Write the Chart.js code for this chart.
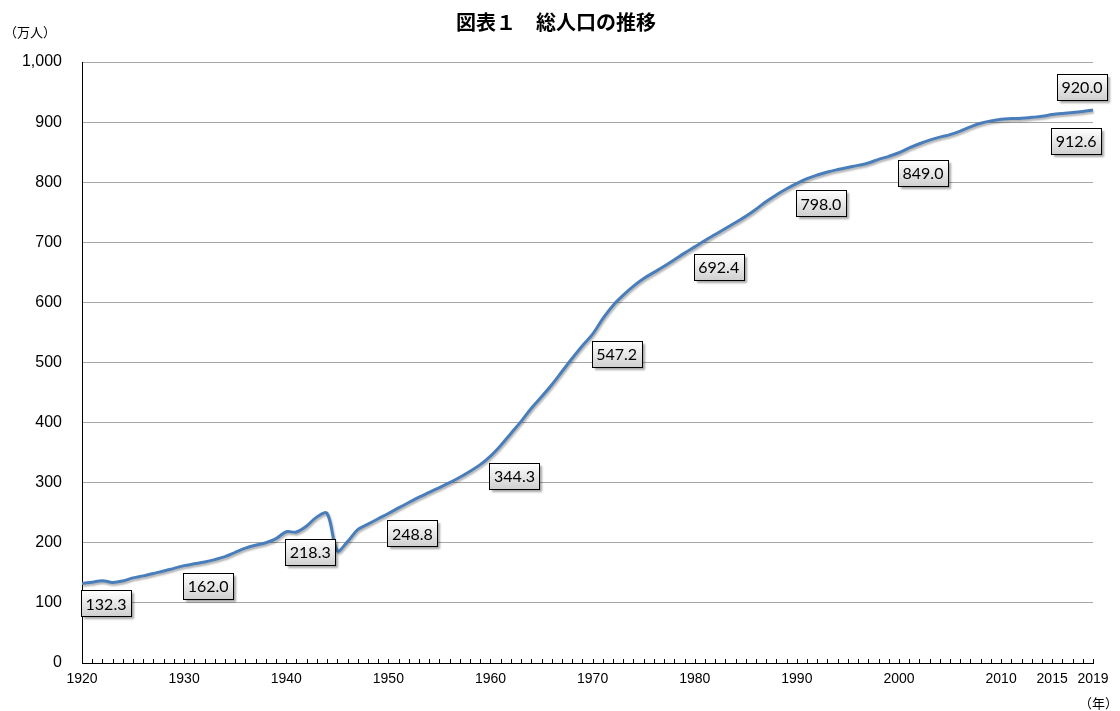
<!DOCTYPE html>
<html lang="ja">
<head>
<meta charset="utf-8">
<title>図表１ 総人口の推移</title>
<script src="https://cdn.jsdelivr.net/npm/chart.js@4.4.0/dist/chart.umd.min.js"></script>
<style>
    html, body { margin: 0; padding: 0; background: #ffffff; }
    #wrap { width: 1120px; height: 711px; position: relative; }
</style>
</head>
<body>
<div id="wrap"><canvas id="populationChart" width="1120" height="711"></canvas></div>
<script>
// Years 1920 - 2019
const years = [];
for (let y = 1920; y <= 2019; y++) years.push(y);

// Total population (10,000 persons)
const population = [
    132.3, 134.5, 137.0, 134.0, 136.5, 141.7, 145.0, 149.0, 153.0, 157.5,
    162.0, 165.0, 168.0, 172.0, 177.0, 184.0, 191.0, 196.0, 200.0, 207.0,
    218.3, 218.0, 228.0, 243.0, 249.0, 186.6, 202.0, 221.8, 231.0, 240.0,
    248.8, 258.0, 267.0, 276.0, 284.0, 291.9, 300.0, 309.0, 319.0, 330.0,
    344.3, 362.0, 382.0, 402.0, 424.0, 443.1, 463.0, 485.0, 507.0, 528.0,
    547.2, 573.0, 595.0, 612.0, 627.0, 639.7, 650.0, 660.0, 671.0, 682.0,
    692.4, 703.0, 713.0, 723.0, 733.0, 743.2, 755.0, 768.0, 779.0, 789.0,
    798.0, 806.0, 812.0, 817.0, 821.0, 824.6, 828.0, 832.0, 838.0, 843.0,
    849.0, 857.0, 864.0, 870.0, 875.0, 879.2, 885.0, 892.0, 898.0, 902.0,
    904.8, 905.8, 906.5, 907.9, 909.6, 912.6, 914.5, 915.9, 917.7, 920.0
];

// Tick labels shown on the axes
const xTickYears = [1920, 1930, 1940, 1950, 1960, 1970, 1980, 1990, 2000, 2010, 2015, 2019];
const yTicks = [0, 100, 200, 300, 400, 500, 600, 700, 800, 900, 1000];

// Years that get a value box
const labelYears = [1920, 1930, 1940, 1950, 1960, 1970, 1980, 1990, 2000, 2015, 2019];

const colors = {
    line: '#4a7ebb',
    grid: '#a6a6a6',
    axis: '#000000',
    text: '#000000'
};

// box offsets from the point (style only)
const boxOffset = { default: [24, 20], 2015: [24, 26], 2019: [-11, -23] };

// value boxes + year minor ticks + extra texts
const decorPlugin = {
    id: 'decor',
    beforeDatasetDraw(chart) {
        const ctx = chart.ctx;
        ctx.save();
        ctx.shadowColor = 'rgba(0,0,0,0.3)';
        ctx.shadowOffsetX = 1;
        ctx.shadowOffsetY = 2;
        ctx.shadowBlur = 2;
    },
    afterDatasetDraw(chart) {
        chart.ctx.restore();
    },
    afterDraw(chart) {
        const ctx = chart.ctx;
        const xs = chart.scales.x;
        const ys = chart.scales.y;
        const area = chart.chartArea;

        // minor ticks for every year (pointing inside)
        ctx.save();
        ctx.strokeStyle = '#000000';
        ctx.lineWidth = 1;
        ctx.beginPath();
        years.forEach(function(yr, i) {
            const px = Math.round(xs.getPixelForValue(i)) + 0.5;
            ctx.moveTo(px, area.bottom);
            ctx.lineTo(px, area.bottom - 4);
        });
        ctx.stroke();
        ctx.restore();

        // value boxes
        ctx.save();
        ctx.font = '16px Lato, "Open Sans", sans-serif';
        ctx.textAlign = 'center';
        ctx.textBaseline = 'middle';
        labelYears.forEach(function(yr) {
            const i = years.indexOf(yr);
            const v = population[i];
            const off = boxOffset[yr] || boxOffset.default;
            const cx = xs.getPixelForValue(i) + off[0];
            const cy = ys.getPixelForValue(v) + off[1];
            const w = 50, h = 26;
            const bx = Math.round(cx - w / 2) + 0.5;
            const by = Math.round(cy - h / 2) + 0.5;

            ctx.shadowColor = 'rgba(0,0,0,0.35)';
            ctx.shadowOffsetX = 2;
            ctx.shadowOffsetY = 2;
            ctx.shadowBlur = 2;
            const grad = ctx.createLinearGradient(0, by, 0, by + h);
            grad.addColorStop(0, '#ffffff');
            grad.addColorStop(1, '#cfcfcf');
            ctx.fillStyle = grad;
            ctx.fillRect(bx, by, w, h);
            ctx.shadowColor = 'transparent';
            ctx.strokeStyle = '#000000';
            ctx.lineWidth = 1;
            ctx.strokeRect(bx, by, w, h);

            ctx.fillStyle = colors.text;
            ctx.fillText(v.toFixed(1), cx, cy + 1);
        });
        ctx.restore();

        // title and unit texts
        ctx.save();
        ctx.fillStyle = colors.text;
        ctx.textBaseline = 'middle';
        ctx.textAlign = 'center';
        ctx.font = 'bold 20px "Noto Sans CJK JP", sans-serif';
        ctx.fillText('図表１　総人口の推移', 556, 22);
        ctx.textAlign = 'left';
        ctx.font = '13px "Noto Sans CJK JP", sans-serif';
        ctx.fillText('（万人）', 4, 32);
        ctx.textAlign = 'right';
        ctx.fillText('（年）', 1118, 703);
        ctx.restore();
    }
};

new Chart(document.getElementById('populationChart').getContext('2d'), {
    type: 'line',
    data: {
        labels: years,
        datasets: [{
            label: '総人口',
            data: population,
            borderColor: colors.line,
            borderWidth: 3,
            fill: false,
            tension: 0.35,
            pointRadius: 0,
            pointHoverRadius: 0
        }]
    },
    options: {
        responsive: false,
        animation: false,
        events: [],
        layout: {
            padding: { top: 62, right: 27, left: 0, bottom: 0 }
        },
        plugins: {
            legend: { display: false },
            tooltip: { enabled: false },
            title: { display: false }
        },
        scales: {
            x: {
                type: 'category',
                offset: false,
                grid: { display: false, drawTicks: false },
                border: { display: true, color: colors.axis, width: 1 },
                afterFit: function(scale) { scale.height = 48; },
                ticks: {
                    autoSkip: false,
                    maxRotation: 0,
                    padding: 8,
                    color: colors.text,
                    font: { family: '"Liberation Sans", Arial, sans-serif', size: 14 },
                    callback: function(value) {
                        const yr = years[value];
                        return xTickYears.indexOf(yr) >= 0 ? String(yr) : '';
                    }
                }
            },
            y: {
                min: 0,
                max: 1000,
                afterFit: function(scale) { scale.width = 82; },
                afterBuildTicks: function(scale) {
                    scale.ticks = yTicks.map(function(v) { return { value: v }; });
                },
                grid: { color: colors.grid, lineWidth: 1, drawTicks: false },
                border: { display: true, color: colors.axis, width: 1 },
                ticks: {
                    padding: 20,
                    color: colors.text,
                    font: { family: '"Liberation Sans", Arial, sans-serif', size: 16 },
                    callback: function(value) {
                        return value.toLocaleString('en-US');
                    }
                }
            }
        }
    },
    plugins: [decorPlugin]
});
</script>
</body>
</html>
